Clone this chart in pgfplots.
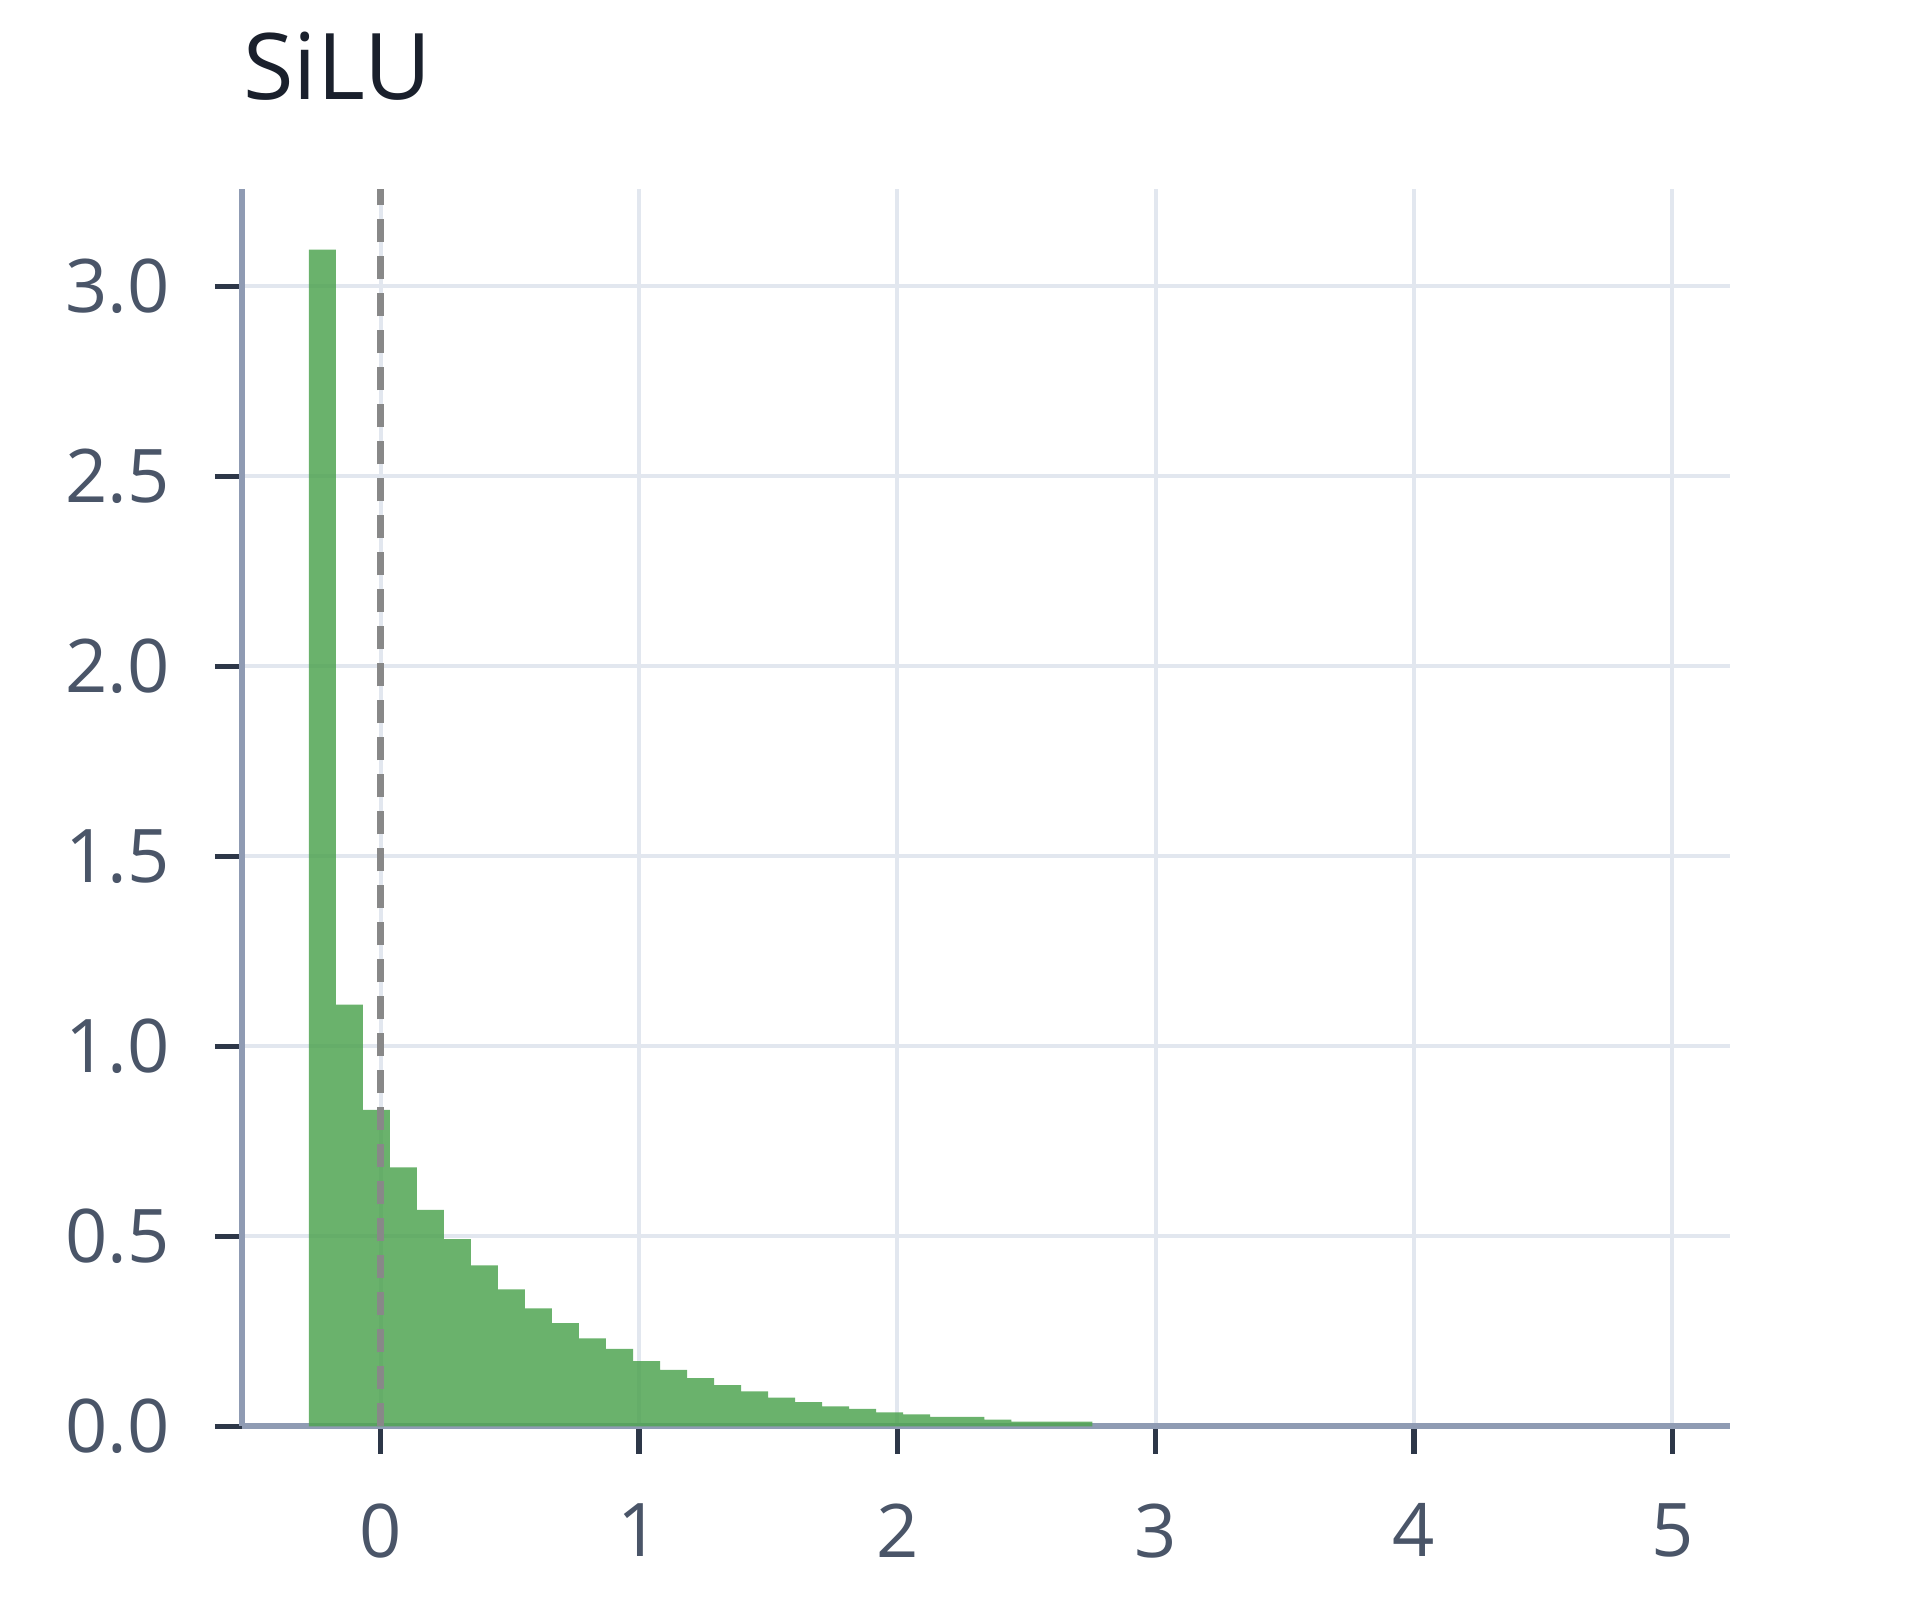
\documentclass[border=0pt]{standalone}
\usepackage{fontspec}
\setmainfont{Open Sans}
\usepackage{pgfplots}
\pgfplotsset{compat=1.18}

\definecolor{barg}{RGB}{80,164,82}
\definecolor{gridc}{RGB}{226,231,239}
\definecolor{axisc}{RGB}{143,155,179}
\definecolor{tickc}{RGB}{45,55,72}
\definecolor{labc}{RGB}{74,85,104}
\definecolor{titc}{RGB}{26,32,44}
\definecolor{dashc}{RGB}{136,136,136}

\begin{document}
\begin{tikzpicture}
\begin{axis}[
    at={(0,0)}, anchor=south west,
    scale only axis,
    width=297.6pt, height=247.4pt,
    xmin=-0.535, xmax=5.225,
    ymin=0, ymax=3.255,
    axis lines=left,
    axis line style={-, draw=axisc, line width=1.2pt},
    xtick={0,1,2,3,4,5},
    ytick={0,0.5,1,1.5,2,2.5,3},
    x tick label as interval=false,
    /pgf/number format/assume math mode=true,
    grid=major,
    major grid style={draw=gridc, line width=0.8pt},
    tick align=outside,
    major tick length=5.5pt,
    tick style={draw=tickc, line width=1.1pt},
    ticklabel style={font=\fontsize{14.8}{16}\selectfont, text=labc},
    yticklabel style={/pgf/number format/fixed, /pgf/number format/fixed zerofill,
                      /pgf/number format/precision=1, xshift=-5.6pt},
    xticklabel style={yshift=-6.4pt},
    title={SiLU},
    title style={at={(0,1)}, anchor=base west, yshift=12pt, inner sep=0pt,
                 font=\fontsize{18.4}{22}\selectfont, text=titc},
]
% histogram: left bin edge, density
\addplot[ybar interval, fill=barg, fill opacity=0.85, draw=none] coordinates {
    (-0.2785,3.097) (-0.1739,1.110) (-0.0693,0.833) (0.0353,0.682)
    (0.1399,0.570) (0.2445,0.493) (0.3491,0.424) (0.4537,0.361)
    (0.5583,0.311) (0.6629,0.272) (0.7675,0.232) (0.8721,0.204)
    (0.9767,0.172) (1.0813,0.149) (1.1859,0.127) (1.2905,0.109)
    (1.3951,0.092) (1.4997,0.076) (1.6043,0.064) (1.7089,0.053)
    (1.8135,0.046) (1.9181,0.037) (2.0227,0.032) (2.1273,0.025)
    (2.2319,0.025) (2.3365,0.018) (2.4411,0.013) (2.5457,0.013)
    (2.6503,0.013) (2.7549,0.013)
};
% zero line
\addplot[dashc, line width=1.3pt, dash pattern=on 4.6pt off 2.8pt] coordinates {(0,0) (0,3.255)};
\end{axis}
\pgfresetboundingbox
\path (-48.5pt,-34.7pt) rectangle (335.5pt,285.3pt);
\end{tikzpicture}
\end{document}
